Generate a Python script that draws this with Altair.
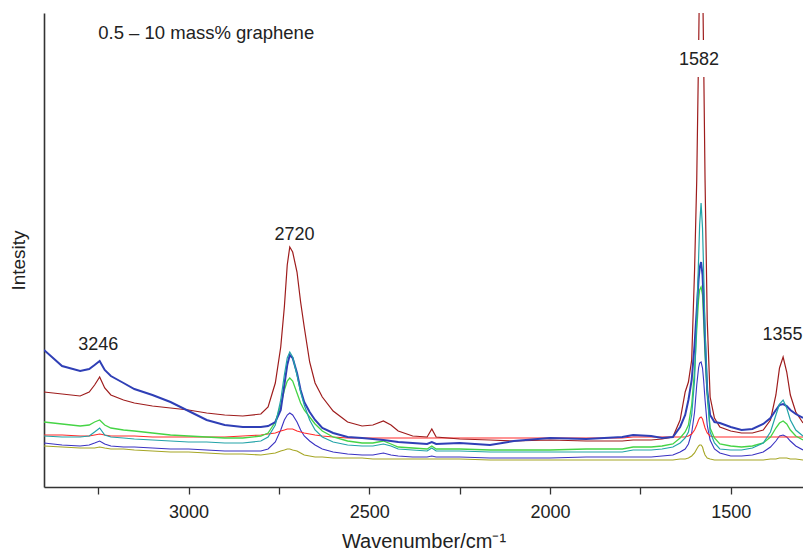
import altair as alt
import pandas as pd

# wavenumber grid (cm^-1)
wavenumber = [3400, 3350, 3300, 3275, 3260, 3246, 3232, 3215, 3180, 3150, 3100, 3050, 3000, 2950, 2900,
              2850, 2800, 2780, 2760, 2745, 2735, 2727, 2720, 2712, 2700, 2690, 2680, 2665, 2650, 2630,
              2600, 2560, 2520, 2490, 2461, 2440, 2420, 2380, 2340, 2327, 2315, 2250, 2166, 2100, 2000,
              1900, 1800, 1770, 1720, 1690, 1660, 1640, 1626, 1617, 1608, 1600, 1594, 1589, 1586, 1582,
              1578, 1575, 1571, 1565, 1557, 1545, 1530, 1500, 1470, 1440, 1410, 1390, 1375, 1365, 1355,
              1345, 1335, 1320, 1300]

# intensities (arbitrary units)
maroon = [95, 93, 91, 95, 102, 110, 99, 92, 87, 84, 81, 79, 77, 74, 72,
          71, 73, 80, 104, 140, 180, 222, 240, 235, 215, 185, 160, 125, 104, 90,
          76, 65, 61, 62, 66, 62, 56, 51, 50, 58, 50, 48, 47, 46, 47,
          46, 46, 47, 47, 48, 50, 67, 95, 105, 127, 217, 307, 432, 517, 607,
          517, 432, 307, 167, 90, 69, 60, 56, 54, 54, 57, 67, 92, 119, 130,
          115, 92, 75, 64]
royal_blue = [137, 121, 116, 118, 122, 126, 117, 111, 104, 98, 92, 85, 76, 67, 62,
              60, 60, 61, 65, 77, 102, 122, 132, 129, 114, 97, 85, 75, 67, 59,
              54, 50, 49, 48, 47, 46, 45, 44, 43, 45, 43, 44, 42, 46, 49,
              48, 50, 52, 51, 49, 50, 60, 72, 87, 107, 142, 177, 207, 219, 225,
              212, 187, 147, 97, 72, 65, 64, 60, 57, 58, 63, 69, 77, 82, 83,
              81, 77, 73, 69]
teal = [51, 50, 50, 51, 55, 59, 52, 50, 49, 48, 47, 46, 45, 45, 44,
        44, 46, 50, 62, 87, 112, 129, 135, 130, 112, 95, 82, 67, 57, 50,
        45, 42, 41, 41, 43, 41, 38, 37, 36, 39, 36, 36, 35, 35, 35,
        35, 35, 37, 37, 38, 40, 44, 49, 55, 72, 107, 167, 227, 262, 284,
        259, 217, 157, 97, 55, 44, 38, 37, 37, 39, 44, 55, 72, 83, 87,
        79, 67, 57, 51]
green = [65, 63, 61, 62, 65, 67, 62, 59, 57, 56, 54, 52, 51, 50, 49,
         49, 51, 54, 65, 82, 97, 106, 109, 106, 94, 84, 77, 70, 63, 56,
         50, 46, 44, 44, 46, 43, 40, 39, 38, 41, 38, 38, 37, 37, 37,
         38, 38, 40, 40, 41, 43, 49, 55, 62, 82, 117, 157, 187, 197, 200,
         192, 167, 132, 92, 59, 49, 43, 41, 40, 41, 44, 50, 59, 64, 66,
         63, 57, 51, 47]
red = [52, 52, 51, 51, 52, 53, 52, 51, 51, 51, 50, 50, 50, 50, 50,
       51, 52, 53, 54, 56, 57, 58, 58, 58, 56, 55, 54, 53, 52, 51,
       50, 49, 49, 49, 49, 49, 49, 49, 49, 49, 49, 49, 49, 49, 49,
       49, 49, 50, 50, 50, 50, 50, 50, 51, 53, 57, 62, 67, 69, 70,
       68, 64, 59, 54, 51, 50, 50, 50, 50, 50, 50, 50, 50, 50, 50,
       50, 50, 50, 50]
thin_blue = [44, 42, 41, 42, 44, 46, 43, 41, 40, 40, 39, 38, 38, 37, 36,
             36, 36, 38, 45, 57, 67, 72, 74, 72, 65, 57, 51, 46, 42, 38,
             35, 33, 32, 32, 34, 32, 31, 30, 30, 31, 30, 30, 29, 29, 29,
             30, 30, 30, 30, 31, 32, 35, 38, 43, 54, 75, 102, 119, 124, 125,
             119, 107, 87, 62, 47, 38, 34, 31, 31, 32, 35, 40, 46, 51, 52,
             50, 46, 41, 37]
olive = [41, 40, 39, 39, 39, 40, 39, 38, 38, 37, 36, 35, 35, 34, 33,
         33, 32, 33, 34, 36, 37, 38, 38, 37, 36, 34, 32, 31, 30, 30,
         29, 29, 29, 28, 28, 28, 28, 28, 28, 28, 28, 28, 27, 27, 27,
         27, 27, 27, 27, 27, 27, 28, 28, 29, 31, 34, 38, 41, 42, 42,
         40, 36, 32, 29, 28, 27, 27, 27, 27, 27, 27, 28, 28, 29, 29,
         29, 28, 28, 27]

series_names = ["olive", "thin_blue", "red", "green", "maroon", "royal_blue", "teal"]
series_values = [olive, thin_blue, red, green, maroon, royal_blue, teal]
series_colors = ["#a6a625", "#3a32c2", "#ff2b2b", "#45d445", "#9e1c1c", "#2f3fb6", "#22a3a8"]
series_widths = [1.1, 1.1, 1.1, 1.3, 1.2, 2.0, 1.2]

# annotations
label_text = ["3246", "2720", "1582", "1355"]
label_x = [3250, 2707, 1588, 1357]
label_y = [142, 252, 427, 152]
note_text = ["0.5 – 10 mass% graphene"]
note_x = [3250]
note_y = [454]

rows = []
for name, vals in zip(series_names, series_values):
    for k, (w, v) in enumerate(zip(wavenumber, vals)):
        rows.append({"series": name, "w": w, "I": v, "order": k})
df = pd.DataFrame(rows)

FONT = "Liberation Sans"
xscale = alt.Scale(domain=[1300, 3400], reverse=True, nice=False, zero=False)
yscale = alt.Scale(domain=[0, 474], nice=False, zero=False)

xaxis = alt.Axis(values=[3250, 3000, 2750, 2500, 2250, 2000, 1750, 1500],
                 labelExpr="datum.value % 500 == 0 ? datum.label : ''",
                 format="d", grid=False, tickSize=7, tickColor="#333",
                 tickWidth=1.3, domainColor="#333", domainWidth=1.6,
                 labelFont=FONT, labelFontSize=18, labelColor="#222",
                 labelPadding=9, title="Wavenumber/cm⁻¹",
                 titleFont=FONT, titleFontSize=20, titleFontWeight="normal",
                 titleColor="#222", titlePadding=10)
yaxis = alt.Axis(ticks=False, labels=False, grid=False, domainColor="#333",
                 domainWidth=1.6, title="Intesity", titleFont=FONT,
                 titleFontSize=19, titleFontWeight="normal", titleColor="#222",
                 titleX=-26, titleY=247, titleAngle=270,
                 titleAlign="center", titleBaseline="middle")

layers = []
for name, col, sw in zip(series_names, series_colors, series_widths):
    layers.append(
        alt.Chart(df[df.series == name])
        .mark_line(color=col, strokeWidth=sw, clip=True)
        .encode(x=alt.X("w:Q", scale=xscale, axis=xaxis),
                y=alt.Y("I:Q", scale=yscale, axis=yaxis),
                order="order:Q")
    )

lab_df = pd.DataFrame({"t": label_text, "w": label_x, "I": label_y})
halo = alt.Chart(lab_df[lab_df.t == "1582"]).mark_text(
    font=FONT, fontSize=18, color="white", stroke="white", strokeWidth=24,
    align="center", baseline="middle").encode(x=alt.X("w:Q", scale=xscale), y=alt.Y("I:Q", scale=yscale), text="t:N")
labels = alt.Chart(lab_df).mark_text(
    font=FONT, fontSize=18, color="#222", align="center", baseline="middle"
).encode(x=alt.X("w:Q", scale=xscale), y=alt.Y("I:Q", scale=yscale), text="t:N")
note = alt.Chart(pd.DataFrame({"t": note_text, "w": note_x, "I": note_y})).mark_text(
    font=FONT, fontSize=18.5, color="#222", align="left", baseline="middle"
).encode(x=alt.X("w:Q", scale=xscale), y=alt.Y("I:Q", scale=yscale), text="t:N")

chart = alt.layer(*layers, halo, labels, note).properties(
    width=759, height=474,
    background="white",
    autosize=alt.AutoSizeParams(type="none"),
    padding={"left": 44, "top": 13, "right": 0, "bottom": 64},
).configure_view(stroke=None)

chart.save("out.html", embed_options={"renderer": "svg", "actions": False})
